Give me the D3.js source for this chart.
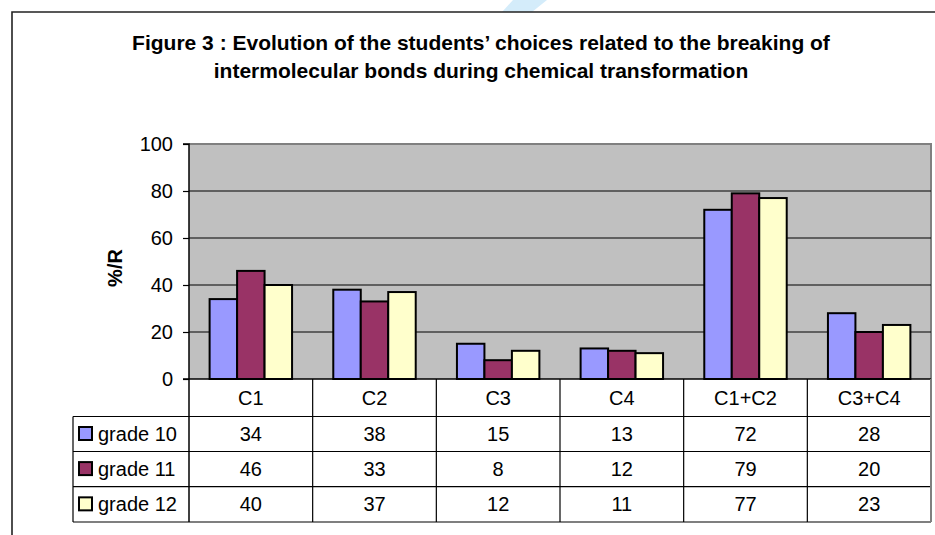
<!DOCTYPE html>
<html>
<head>
<meta charset="utf-8">
<script src="https://cdn.jsdelivr.net/npm/d3@7"></script>
<style>
  body { margin: 0; background: #fff; }
  svg { display: block; font-family: "Liberation Sans", Arial, sans-serif; }
</style>
</head>
<body>
<svg id="chart"></svg>
<script>
const categories = ['C1', 'C2', 'C3', 'C4', 'C1+C2', 'C3+C4'];
const seriesNames = ['grade 10', 'grade 11', 'grade 12'];
const grade10 = [34, 38, 15, 13, 72, 28];
const grade11 = [46, 33, 8, 12, 79, 20];
const grade12 = [40, 37, 12, 11, 77, 23];
const yTicks = [0, 20, 40, 60, 80, 100];
const colors = ['#9999FF', '#993366', '#FFFFCC'];

const series = [grade10, grade11, grade12];
const W = 935, H = 535;

const svg = d3.select('#chart')
  .attr('width', W)
  .attr('height', H)
  .attr('viewBox', [0, 0, W, H]);

// faint watermark streak at the top
svg.append('path')
  .attr('d', 'M513,0 L547,0 L532,12 L502,12 Z')
  .attr('fill', '#d4ecfa');

// outer frame
svg.append('path')
  .attr('d', `M12,${H} L12,12 L${W},12`)
  .attr('fill', 'none')
  .attr('stroke', '#222')
  .attr('stroke-width', 1.6);

// title
const title = svg.append('text')
  .attr('text-anchor', 'middle')
  .attr('font-weight', 'bold')
  .attr('font-size', 21);
title.append('tspan').attr('x', 481).attr('y', 50)
  .text('Figure 3 : Evolution of the students’ choices related to the breaking of');
title.append('tspan').attr('x', 481).attr('y', 78)
  .text('intermolecular bonds during chemical transformation');

const plot = {left: 189, right: 931, top: 144, bottom: 379};

const x = d3.scaleBand()
  .domain(categories)
  .range([plot.left, plot.right]);

// excel gap width 150%: 0.75 bar width on each side of the group
const xInner = d3.scaleBand()
  .domain(d3.range(series.length))
  .range([0, x.bandwidth()])
  .paddingInner(0)
  .paddingOuter(0.75);

const y = d3.scaleLinear()
  .domain([0, 100])
  .range([plot.bottom, plot.top]);

// plot background
svg.append('rect')
  .attr('x', plot.left).attr('y', plot.top)
  .attr('width', plot.right - plot.left)
  .attr('height', plot.bottom - plot.top)
  .attr('fill', '#C0C0C0');

svg.append('path')
  .attr('d', `M${plot.left},${plot.top} L${plot.right},${plot.top} L${plot.right},${plot.bottom}`)
  .attr('fill', 'none')
  .attr('stroke', '#808080')
  .attr('stroke-width', 2);

// gridlines
svg.append('g')
  .selectAll('line')
  .data(yTicks.filter(d => d > 0 && d < 100))
  .enter().append('line')
  .attr('x1', plot.left).attr('x2', plot.right)
  .attr('y1', d => y(d)).attr('y2', d => y(d))
  .attr('stroke', '#000')
  .attr('stroke-width', 1);

// bars
const groups = svg.append('g')
  .selectAll('g')
  .data(series)
  .enter().append('g')
  .attr('fill', (d, i) => colors[i]);

groups.each(function(vals, si) {
  d3.select(this).selectAll('rect')
    .data(vals)
    .enter().append('rect')
    .attr('x', (v, ci) => x(categories[ci]) + xInner(si))
    .attr('y', v => y(v))
    .attr('width', xInner.bandwidth())
    .attr('height', v => y(0) - y(v))
    .attr('stroke', '#000')
    .attr('stroke-width', 2);
});

// y axis
const yAxis = svg.append('g')
  .attr('transform', `translate(${plot.left},0)`)
  .call(d3.axisLeft(y).tickValues(yTicks).tickSize(6).tickPadding(10));
yAxis.select('.domain').attr('stroke', '#000').attr('stroke-width', 1.5)
  .attr('d', `M-6,${plot.top}H0V${plot.bottom}`);
yAxis.selectAll('.tick line').attr('stroke', '#000').attr('stroke-width', 1.2);
yAxis.selectAll('.tick text')
  .attr('font-size', 20)
  .attr('font-family', '"Liberation Sans", Arial, sans-serif')
  .attr('fill', '#000');

// zero line across plot
svg.append('line')
  .attr('x1', plot.left - 6).attr('x2', plot.right)
  .attr('y1', y(0)).attr('y2', y(0))
  .attr('stroke', '#000').attr('stroke-width', 1.5);

svg.append('text')
  .attr('transform', `translate(122,268) rotate(-90)`)
  .attr('text-anchor', 'middle')
  .attr('font-weight', 'bold')
  .attr('font-size', 20)
  .text('%/R');

// data table
const tableLeft = 73;
const rowEdges = [plot.bottom, 416.5, 451.5, 486.7, 522];

const table = svg.append('g');

// header row labels
table.selectAll('text.cat')
  .data(categories)
  .enter().append('text')
  .attr('class', 'cat')
  .attr('x', d => x(d) + x.bandwidth() / 2)
  .attr('y', (rowEdges[0] + rowEdges[1]) / 2 + 7)
  .attr('text-anchor', 'middle')
  .attr('font-size', 20)
  .text(d => d);

// horizontal table lines
table.selectAll('line.h')
  .data(rowEdges.slice(1))
  .enter().append('line')
  .attr('x1', tableLeft).attr('x2', plot.right)
  .attr('y1', d => d).attr('y2', d => d)
  .attr('stroke', '#000').attr('stroke-width', 1.2);

// vertical table lines
table.selectAll('line.v')
  .data(categories.slice(1))
  .enter().append('line')
  .attr('x1', d => x(d)).attr('x2', d => x(d))
  .attr('y1', rowEdges[0]).attr('y2', rowEdges[4])
  .attr('stroke', '#000').attr('stroke-width', 1.2);

table.append('line')
  .attr('x1', plot.left).attr('x2', plot.left)
  .attr('y1', rowEdges[0]).attr('y2', rowEdges[4])
  .attr('stroke', '#000').attr('stroke-width', 1.5);
table.append('line')
  .attr('x1', tableLeft).attr('x2', tableLeft)
  .attr('y1', rowEdges[1]).attr('y2', rowEdges[4])
  .attr('stroke', '#000').attr('stroke-width', 1.2);
table.append('line')
  .attr('x1', plot.right).attr('x2', plot.right)
  .attr('y1', rowEdges[0]).attr('y2', rowEdges[4])
  .attr('stroke', '#808080').attr('stroke-width', 2);

// rows: legend key, name, values
series.forEach((vals, si) => {
  const top = rowEdges[si + 1], bot = rowEdges[si + 2];
  const mid = (top + bot) / 2;
  table.append('rect')
    .attr('x', 79).attr('y', mid - 7)
    .attr('width', 13).attr('height', 13)
    .attr('fill', colors[si])
    .attr('stroke', '#000').attr('stroke-width', 2);
  table.append('text')
    .attr('x', 98).attr('y', mid + 7)
    .attr('font-size', 20)
    .text(seriesNames[si]);
  table.selectAll(null)
    .data(vals)
    .enter().append('text')
    .attr('x', (v, ci) => x(categories[ci]) + x.bandwidth() / 2)
    .attr('y', mid + 7)
    .attr('text-anchor', 'middle')
    .attr('font-size', 20)
    .text(v => v);
});
</script>
</body>
</html>
